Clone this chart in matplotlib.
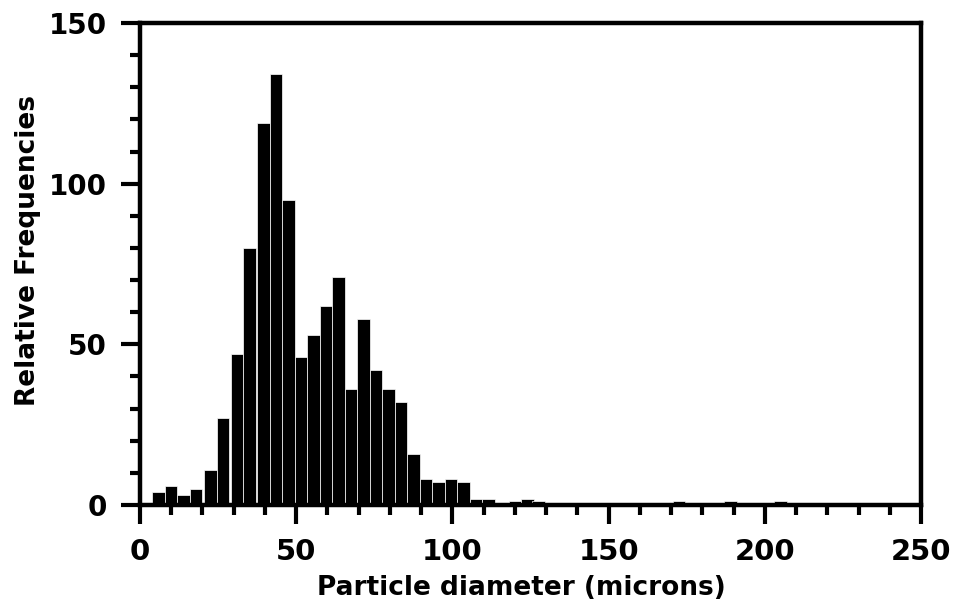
import matplotlib
matplotlib.use("Agg")
import matplotlib.pyplot as plt
from matplotlib.ticker import MultipleLocator

# bin centres (microns) and heights
diameters = [6, 10, 14, 18, 22.5, 26.5, 31, 35, 39.5, 43.5, 47.5, 51.5, 55.5, 59.5,
             63.5, 67.5, 71.5, 75.5, 79.5, 83.5, 87.5, 91.5, 95.5, 99.5, 103.5, 107.5,
             111.5, 115.5, 120, 124, 127.5, 172.5, 189, 205]
frequencies = [4, 6, 3, 5, 11, 27, 47, 80, 119, 134, 95, 46, 53, 62,
               71, 36, 58, 42, 36, 32, 16, 8, 7, 8, 7, 2,
               2, 0.5, 1.2, 2, 1.2, 1.2, 1.2, 1.2]
bin_width = 4

x_ticks = [0, 50, 100, 150, 200, 250]
y_ticks = [0, 50, 100, 150]

plt.rcParams['font.family'] = ['DejaVu Sans']
plt.rcParams['font.weight'] = 'bold'

fig = plt.figure(figsize=(9.56, 6.09), dpi=100)
ax = fig.add_axes([0.1464, 0.1708, 0.817, 0.7914])

ax.bar(diameters, frequencies, width=bin_width, color='black',
       edgecolor='white', linewidth=0.5, align='center', zorder=2)

ax.set_xlim(0, 250)
ax.set_ylim(0, 150)
ax.set_xticks(x_ticks)
ax.set_yticks(y_ticks)
ax.xaxis.set_minor_locator(MultipleLocator(10))
ax.yaxis.set_minor_locator(MultipleLocator(10))

for s in ax.spines.values():
    s.set_linewidth(3.2)
    s.set_zorder(3)

ax.tick_params(axis='both', which='major', direction='out', length=14, width=3,
               color='black')
ax.tick_params(axis='both', which='minor', direction='out', length=7, width=3)
ax.tick_params(axis='x', which='major', pad=10, labelsize=21)
ax.tick_params(axis='y', which='major', pad=10, labelsize=20)

for lab in ax.get_xticklabels() + ax.get_yticklabels():
    lab.set_fontweight('bold')

ax.set_xlabel('Particle diameter (microns)', fontsize=19, fontweight='bold')
ax.set_ylabel('Relative Frequencies', fontsize=19, fontweight='bold')
ax.xaxis.set_label_coords(0.488, -0.145)
ax.yaxis.set_label_coords(-0.127, 0.527)

fig.savefig('out.png', dpi=100)
